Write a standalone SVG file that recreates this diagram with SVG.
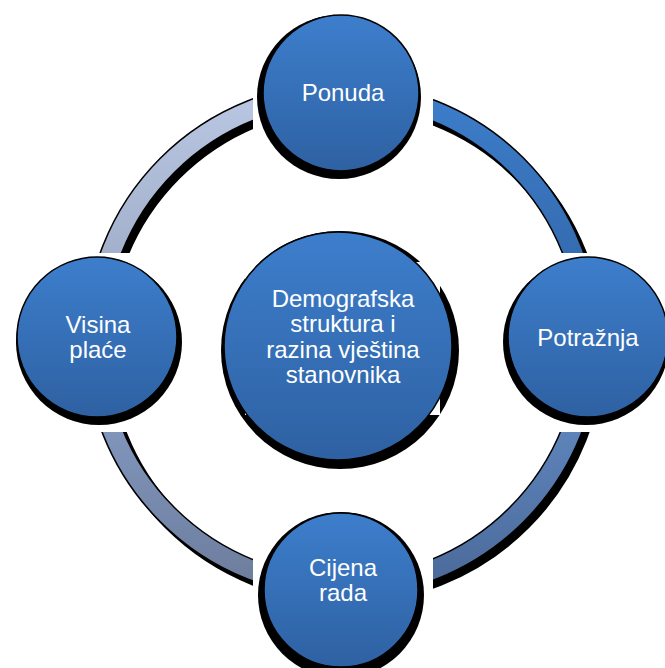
<svg xmlns="http://www.w3.org/2000/svg" width="665" height="668" viewBox="0 0 665 668">
<defs>
<linearGradient id="gNode" x1="0" y1="0" x2="0" y2="1"><stop offset="0" stop-color="#3D7ECC"/><stop offset="1" stop-color="#2E61A2"/></linearGradient>
<linearGradient id="gTL" gradientUnits="userSpaceOnUse" x1="0" y1="83" x2="0" y2="340"><stop offset="0" stop-color="#BBC8E3"/><stop offset="1" stop-color="#98A5C2"/></linearGradient>
<linearGradient id="gBL" gradientUnits="userSpaceOnUse" x1="0" y1="340" x2="0" y2="597"><stop offset="0" stop-color="#8CA3CC"/><stop offset="1" stop-color="#6B7B9B"/></linearGradient>
<linearGradient id="gTR" gradientUnits="userSpaceOnUse" x1="0" y1="83" x2="0" y2="340"><stop offset="0" stop-color="#3D7ECC"/><stop offset="1" stop-color="#3163A3"/></linearGradient>
<linearGradient id="gBR" gradientUnits="userSpaceOnUse" x1="0" y1="340" x2="0" y2="597"><stop offset="0" stop-color="#6892CC"/><stop offset="1" stop-color="#4A6898"/></linearGradient>
</defs>
<style>
.node{fill:url(#gNode);stroke:#000;stroke-width:1.5}
.shadow{fill:#000}
.mask{fill:#fff}
.seg{stroke:#000;stroke-width:1.5}
.lbl{font-family:"Liberation Sans",Arial,sans-serif;font-size:24px;fill:#fff;text-anchor:middle}
</style>
<rect width="665" height="668" fill="#fff"/>
<g id="connectors">
<circle cx="347" cy="346" r="247" fill="none" stroke="#000" stroke-width="21"/>
<path class="seg" fill="url(#gTL)" d="M 85 340 A 257 257 0 0 1 342 83 L 342 103 A 237 237 0 0 0 105 340 Z"/>
<path class="seg" fill="url(#gTR)" d="M 342 83 A 257 257 0 0 1 599 340 L 579 340 A 237 237 0 0 0 342 103 Z"/>
<path class="seg" fill="url(#gBR)" d="M 599 340 A 257 257 0 0 1 342 597 L 342 577 A 237 237 0 0 0 579 340 Z"/>
<path class="seg" fill="url(#gBL)" d="M 342 597 A 257 257 0 0 1 85 340 L 105 340 A 237 237 0 0 0 342 577 Z"/>
</g>
<g id="node-ponuda">
<rect class="mask" x="253" y="0" width="180" height="182"/>
<circle class="shadow" cx="339" cy="97" r="82"/>
<circle class="node" cx="341" cy="93" r="78"/>
<text class="lbl" x="343" y="101">Ponuda</text>
</g>
<g id="node-potraznja">
<rect class="mask" x="495" y="253" width="170" height="179"/>
<circle class="shadow" cx="586" cy="342" r="83"/>
<circle class="node" cx="588" cy="337" r="80"/>
<text class="lbl" x="588" y="346">Potražnja</text>
</g>
<g id="node-cijena">
<rect class="mask" x="253" y="505" width="180" height="163"/>
<circle class="shadow" cx="341" cy="595" r="83"/>
<circle class="node" cx="341" cy="590" r="77"/>
<text class="lbl" x="343" y="576">Cijena</text>
<text class="lbl" x="343" y="601">rada</text>
</g>
<g id="node-visina">
<rect class="mask" x="0" y="253" width="192" height="179"/>
<circle class="shadow" cx="99" cy="342" r="83"/>
<circle class="node" cx="97" cy="337" r="80"/>
<text class="lbl" x="98" y="333">Visina</text>
<text class="lbl" x="98" y="358">plaće</text>
</g>
<g id="node-centar">
<circle class="shadow" cx="340" cy="350" r="119"/>
<rect class="mask" x="245" y="262" width="195" height="153"/>
<circle class="node" cx="338" cy="346" r="114"/>
<text class="lbl" x="343" y="307">Demografska</text>
<text class="lbl" x="343" y="332">struktura i</text>
<text class="lbl" x="343" y="358">razina vještina</text>
<text class="lbl" x="343" y="383">stanovnika</text>
</g>
</svg>
